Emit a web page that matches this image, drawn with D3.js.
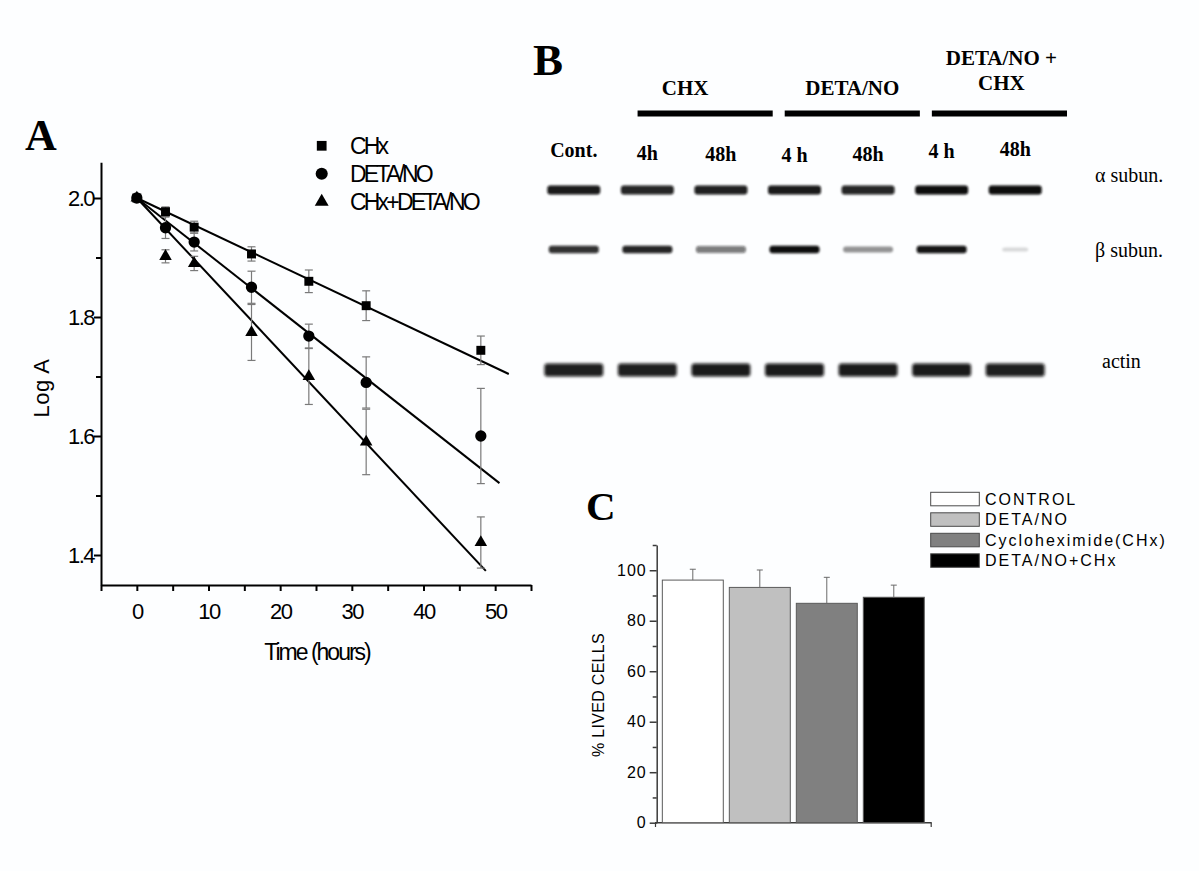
<!DOCTYPE html>
<html><head><meta charset="utf-8">
<script src="https://cdn.jsdelivr.net/npm/d3@7"></script>
<style>body{margin:0;background:#fff}svg{display:block}</style>
</head><body>
<svg id="fig" width="1199" height="871"></svg>
<script>
// ---------- Panel A data ----------
const timeHours = [0, 4, 8, 16, 24, 32, 48];
const seriesNames = ["CHx", "DETA/NO", "CHx+DETA/NO"];
const chxLogA = [2.000, 1.977, 1.951, 1.906, 1.860, 1.819, 1.744];
const chxErr = [0.005, 0.008, 0.010, 0.012, 0.019, 0.025, 0.024];
const detaLogA = [2.000, 1.950, 1.926, 1.850, 1.768, 1.690, 1.600];
const detaErr = [0.005, 0.018, 0.015, 0.027, 0.020, 0.043, 0.080];
const comboLogA = [2.000, 1.902, 1.890, 1.774, 1.700, 1.590, 1.421];
const comboErr = [0.005, 0.011, 0.012, 0.047, 0.047, 0.055, 0.043];
const fitIntercept = [2.0, 2.0, 2.0];
const fitSlope = [-0.0057, -0.00947, -0.01287];
const fitEndHours = [51.9, 50.6, 48.7];
const xTicksA = [-5, 0, 5, 10, 15, 20, 25, 30, 35, 40, 45, 50, 55];
const yMajorA = [1.4, 1.6, 1.8, 2.0];
const yMinorA = [1.5, 1.7, 1.9];

// ---------- Panel B data ----------
const lanes = ["Cont.", "4h", "48h", "4 h", "48h ", "4 h ", "48h  "];
const laneLabels = ["Cont.", "4h", "48h", "4 h", "48h", "4 h", "48h"];
const groupLabels = [["CHX"], ["DETA/NO"], ["DETA/NO +", "CHX"]];
const groupFirstLane = [1, 3, 5];
const groupLastLane = [2, 4, 6];
const rowNames = ["\u03B1 subun.", "\u03B2 subun.", "actin"];
const alphaDensity = [0.95, 0.90, 0.92, 0.95, 0.90, 1.00, 1.00];
const betaDensity = [0.85, 0.90, 0.55, 1.00, 0.42, 0.97, 0.15];
const actinDensity = [0.93, 0.93, 0.95, 0.95, 0.95, 0.95, 0.93];

// ---------- Panel C data ----------
const treatments = ["CONTROL", "DETA/NO", "Cycloheximide(CHx)", "DETA/NO+CHx"];
const livedPct = [96.1, 93.2, 86.9, 89.3];
const livedErr = [4.3, 6.9, 10.3, 4.8];
const barColors = ["#ffffff", "#c0c0c0", "#808080", "#000000"];
const yMajorC = [0, 20, 40, 60, 80, 100];
const yMinorC = [10, 30, 50, 70, 90, 110];

const svg = d3.select("#fig");
svg.append("rect").attr("width", 1199).attr("height", 871).attr("fill", "#fdfeff");
const defs = svg.append("defs");
defs.append("filter").attr("id", "blurS").attr("x", "-20%").attr("y", "-100%").attr("width", "140%").attr("height", "300%")
  .append("feGaussianBlur").attr("stdDeviation", 1.1);
defs.append("filter").attr("id", "blurL").attr("x", "-20%").attr("y", "-100%").attr("width", "140%").attr("height", "300%")
  .append("feGaussianBlur").attr("stdDeviation", 1.4);

const SANS = "'Liberation Sans', Arial, sans-serif";
const SERIF = "'Liberation Serif', 'Times New Roman', serif";

// ================= PANEL A =================
const xA = d3.scaleLinear().domain([-5, 55]).range([101, 531]);
const yA = d3.scaleLinear().domain([1.35, 2.06]).range([584.75, 162.3]);
const gA = svg.append("g");

svg.append("text").attr("x", 25).attr("y", 150).text("A")
  .attr("font-family", SERIF).attr("font-weight", "bold").attr("font-size", 44);

// axes
const yAxisMaj = d3.axisLeft(yA).tickValues(yMajorA).tickFormat(d3.format(".1f")).tickSize(7).tickSizeOuter(0).tickPadding(0);
const yAxisMin = d3.axisLeft(yA).tickValues(yMinorA).tickFormat("").tickSize(5).tickSizeOuter(0);
const ga1 = gA.append("g").attr("transform", "translate(101,0)").call(yAxisMaj);
const ga2 = gA.append("g").attr("transform", "translate(101,0)").call(yAxisMin);
ga2.select(".domain").remove();
const xAxisA = d3.axisBottom(xA).tickValues(xTicksA)
  .tickFormat(d => (d >= 0 && d % 10 === 0) ? d3.format("d")(d) : "")
  .tickSize(6).tickSizeOuter(0).tickPadding(12);
const ga3 = gA.append("g").attr("transform", "translate(0,585)").call(xAxisA);
[ga1, ga2, ga3].forEach(g => {
  g.selectAll("path,line").attr("stroke", "#000").attr("stroke-width", 2);
  g.selectAll("text").attr("font-family", SANS).attr("font-size", 22)
    .attr("letter-spacing", "-1.5px").attr("fill", "#000");
});

gA.append("text").attr("x", 317).attr("y", 660).attr("text-anchor", "middle")
  .attr("font-family", SANS).attr("font-size", 23).attr("letter-spacing", "-2px").text("Time (hours)");
gA.append("text").attr("transform", "translate(49,388) rotate(-90)").attr("text-anchor", "middle")
  .attr("font-family", SANS).attr("font-size", 22).attr("letter-spacing", "0.5px").text("Log A");

const seriesA = [
  { name: seriesNames[0], v: chxLogA, e: chxErr, sym: d3.symbolSquare, size: 80 },
  { name: seriesNames[1], v: detaLogA, e: detaErr, sym: d3.symbolCircle, size: 100 },
  { name: seriesNames[2], v: comboLogA, e: comboErr, sym: d3.symbolTriangle, size: 68 }
];

// fit lines
seriesA.forEach((s, i) => {
  gA.append("line")
    .attr("x1", xA(0)).attr("y1", yA(fitIntercept[i]))
    .attr("x2", xA(fitEndHours[i])).attr("y2", yA(fitIntercept[i] + fitSlope[i] * fitEndHours[i]))
    .attr("stroke", "#000").attr("stroke-width", 2);
});
// error bars
seriesA.forEach(s => {
  const eg = gA.append("g").attr("stroke", "#7a7a7a").attr("stroke-width", 1.2);
  timeHours.forEach((t, j) => {
    const x = xA(t), y1 = yA(s.v[j] + s.e[j]), y2 = yA(s.v[j] - s.e[j]);
    eg.append("line").attr("x1", x).attr("x2", x).attr("y1", y1).attr("y2", y2);
    eg.append("line").attr("x1", x - 4).attr("x2", x + 4).attr("y1", y1).attr("y2", y1);
    eg.append("line").attr("x1", x - 4).attr("x2", x + 4).attr("y1", y2).attr("y2", y2);
  });
});
// markers
seriesA.forEach(s => {
  gA.append("g").selectAll("path").data(timeHours).join("path")
    .attr("d", d3.symbol(s.sym, s.size))
    .attr("transform", (t, j) => `translate(${xA(t)},${yA(s.v[j])})`)
    .attr("fill", "#000");
});
// legend A
const legY = [145.8, 173.8, 201.7];
seriesA.forEach((s, i) => {
  gA.append("path").attr("d", d3.symbol(s.sym, s.size + 15)).attr("transform", `translate(321.7,${legY[i]})`).attr("fill", "#000");
  gA.append("text").attr("x", 350).attr("y", legY[i] + 8.5).text(s.name)
    .attr("font-family", SANS).attr("font-size", 23).attr("letter-spacing", "-2.8px");
});

// ================= PANEL B =================
const gB = svg.append("g");
svg.append("text").attr("x", 533).attr("y", 75).text("B")
  .attr("font-family", SERIF).attr("font-weight", "bold").attr("font-size", 45);

const xLane = d3.scaleBand().domain(lanes).range([537, 1052]).padding(0);
const step = xLane.step();
const laneC = i => xLane(lanes[i]) + step / 2;

// group headers and lines
const groupDx = [-20, 0, 2];
groupLabels.forEach((lbls, g) => {
  const x1 = xLane(lanes[groupFirstLane[g]]) + 27;
  const x2 = xLane(lanes[groupLastLane[g]]) + step + 15;
  gB.append("line").attr("x1", x1).attr("x2", x2).attr("y1", 113.5).attr("y2", 113.5)
    .attr("stroke", "#000").attr("stroke-width", 6);
  const cx = (x1 + x2) / 2 + groupDx[g];
  const baseY = lbls.length === 1 ? [95] : [65, 90];
  lbls.forEach((t, k) => {
    gB.append("text").attr("x", cx).attr("y", baseY[k]).attr("text-anchor", "middle").text(t)
      .attr("font-family", SERIF).attr("font-weight", "bold").attr("font-size", 21);
  });
});
// lane labels
const laneLabelY = [156.7, 160, 160.7, 161.7, 161, 158.3, 156];
gB.selectAll("text.lane").data(laneLabels).join("text").attr("class", "lane")
  .attr("x", (d, i) => laneC(i)).attr("y", (d, i) => laneLabelY[i]).attr("text-anchor", "middle")
  .text(d => d).attr("font-family", SERIF).attr("font-weight", "bold").attr("font-size", 20);

// bands
const rowsB = [
  { dens: alphaDensity, y: 190, h: 9, w: 0.72, filt: "blurS" },
  { dens: betaDensity, y: 249.5, h: 7.5, w: 0.68, filt: "blurS" },
  { dens: actinDensity, y: 370, h: 13, w: 0.80, filt: "blurL" }
];
rowsB.forEach(r => {
  gB.append("g").attr("filter", `url(#${r.filt})`).selectAll("rect").data(r.dens).join("rect")
    .attr("x", (d, i) => { const w = step * r.w * Math.min(1, 0.25 + d * 1.8); return laneC(i) - w / 2; })
    .attr("width", d => step * r.w * Math.min(1, 0.25 + d * 1.8))
    .attr("y", d => r.y - (r.h * Math.min(1, 0.4 + d)) / 2)
    .attr("height", d => r.h * Math.min(1, 0.4 + d))
    .attr("rx", 3)
    .attr("fill", "#0d0d0d").attr("fill-opacity", d => d);
});
// row labels
const rowLabelPos = [[1095, 182], [1095, 257], [1102, 368]];
rowNames.forEach((t, i) => {
  gB.append("text").attr("x", rowLabelPos[i][0]).attr("y", rowLabelPos[i][1]).text(t)
    .attr("font-family", SERIF).attr("font-size", 20);
});

// ================= PANEL C =================
const gC = svg.append("g");
svg.append("text").attr("x", 586).attr("y", 520).text("C")
  .attr("font-family", SERIF).attr("font-weight", "bold").attr("font-size", 41);

const yC = d3.scaleLinear().domain([0, 110]).range([822.7, 545]);
const xC = d3.scaleBand().domain(treatments).range([656.7, 929.9]).paddingInner(0.09).paddingOuter(0.084);

const cMaj = d3.axisLeft(yC).tickValues(yMajorC).tickSize(7).tickSizeOuter(0).tickPadding(3);
const cMin = d3.axisLeft(yC).tickValues(yMinorC).tickFormat("").tickSize(4).tickSizeOuter(0);
const gc1 = gC.append("g").attr("transform", "translate(656.7,0)").call(cMaj);
const gc2 = gC.append("g").attr("transform", "translate(656.7,0)").call(cMin);
gc2.select(".domain").remove();
[gc1, gc2].forEach(g => {
  g.selectAll("path,line").attr("stroke", "#3a3a3a").attr("stroke-width", 1.5);
  g.selectAll("text").attr("font-family", SANS).attr("font-size", 16).attr("letter-spacing", "1px").attr("fill", "#000");
});
// x axis line with end ticks
gC.append("line").attr("x1", 655).attr("x2", 931.7).attr("y1", 822.7).attr("y2", 822.7).attr("stroke", "#3a3a3a").attr("stroke-width", 1.5);
[655.5, 931.2].forEach(x => gC.append("line").attr("x1", x).attr("x2", x).attr("y1", 822.7).attr("y2", 827).attr("stroke", "#3a3a3a").attr("stroke-width", 1.2));

gC.append("text").attr("transform", "translate(604,695) rotate(-90)").attr("text-anchor", "middle")
  .attr("font-family", SANS).attr("font-size", 16).attr("letter-spacing", "0.3px").text("% LIVED CELLS");

// bars
gC.append("g").selectAll("rect").data(treatments).join("rect")
  .attr("x", d => xC(d)).attr("width", xC.bandwidth())
  .attr("y", (d, i) => yC(livedPct[i])).attr("height", (d, i) => yC(0) - yC(livedPct[i]))
  .attr("fill", (d, i) => barColors[i]).attr("stroke", "#5a5a5a").attr("stroke-width", 1);
// error bars (upper only)
const ebC = gC.append("g").attr("stroke", "#6a6a6a").attr("stroke-width", 1);
treatments.forEach((d, i) => {
  const x = xC(d) + xC.bandwidth() / 2;
  ebC.append("line").attr("x1", x).attr("x2", x).attr("y1", yC(livedPct[i])).attr("y2", yC(livedPct[i] + livedErr[i]));
  ebC.append("line").attr("x1", x - 3).attr("x2", x + 3).attr("y1", yC(livedPct[i] + livedErr[i])).attr("y2", yC(livedPct[i] + livedErr[i]));
});
// legend C
treatments.forEach((t, i) => {
  const y = 492.3 + i * 20.5;
  gC.append("rect").attr("x", 930.7).attr("y", y).attr("width", 48.6).attr("height", 13.5)
    .attr("fill", barColors[i]).attr("stroke", "#4a4a4a").attr("stroke-width", 1);
  gC.append("text").attr("x", 985).attr("y", y + 12.3).text(t)
    .attr("font-family", SANS).attr("font-size", 16).attr("letter-spacing", "2px");
});
</script>
</body></html>
